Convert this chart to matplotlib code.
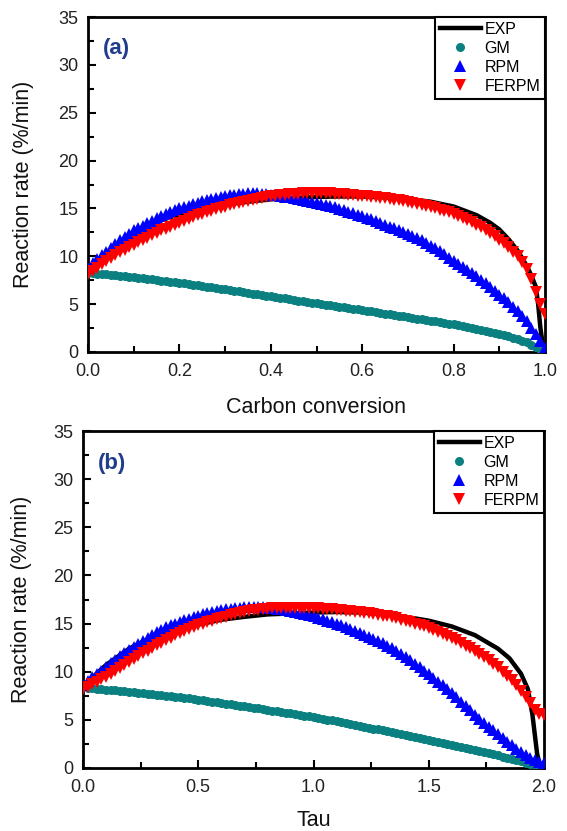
import numpy as np
import matplotlib.pyplot as plt
from matplotlib.ticker import MultipleLocator

plt.rcParams['font.family'] = ['Liberation Sans', 'DejaVu Sans']

# ---- panel (a): rate vs carbon conversion ----
conv = np.round(np.arange(0, 1.0001, 0.01), 2)
gm_a = [8.30, 8.25, 8.20, 8.15, 8.10, 8.05, 8.00, 7.95, 7.90, 7.85,
        7.80, 7.75, 7.70, 7.64, 7.58, 7.52, 7.47, 7.41, 7.36, 7.30,
        7.25, 7.18, 7.11, 7.04, 6.97, 6.90, 6.83, 6.76, 6.69, 6.62,
        6.55, 6.48, 6.40, 6.33, 6.25, 6.18, 6.10, 6.03, 5.95, 5.88,
        5.80, 5.73, 5.66, 5.59, 5.52, 5.45, 5.38, 5.31, 5.24, 5.17,
        5.10, 5.03, 4.96, 4.89, 4.82, 4.75, 4.68, 4.61, 4.54, 4.47,
        4.40, 4.32, 4.25, 4.17, 4.10, 4.02, 3.95, 3.87, 3.80, 3.72,
        3.65, 3.57, 3.50, 3.42, 3.35, 3.27, 3.20, 3.12, 3.05, 2.97,
        2.90, 2.80, 2.70, 2.60, 2.50, 2.40, 2.30, 2.20, 2.10, 2.00,
        1.90, 1.78, 1.65, 1.50, 1.35, 1.18, 1.00, 0.78, 0.55, 0.32,
        0.10]
rpm_a = [8.80, 9.25, 9.70, 10.10, 10.50, 10.90, 11.30, 11.65, 12.00, 12.35,
         12.70, 12.95, 13.20, 13.45, 13.70, 13.95, 14.20, 14.40, 14.60, 14.80,
         15.00, 15.15, 15.30, 15.45, 15.60, 15.75, 15.90, 16.00, 16.10, 16.20,
         16.30, 16.38, 16.45, 16.50, 16.55, 16.58, 16.60, 16.58, 16.55, 16.50,
         16.45, 16.38, 16.30, 16.22, 16.15, 16.08, 16.00, 15.90, 15.80, 15.70,
         15.60, 15.48, 15.35, 15.22, 15.10, 14.95, 14.80, 14.65, 14.50, 14.35,
         14.20, 14.02, 13.85, 13.68, 13.50, 13.30, 13.10, 12.92, 12.75, 12.55,
         12.35, 12.12, 11.90, 11.65, 11.40, 11.12, 10.85, 10.52, 10.20, 9.85,
         9.50, 9.20, 8.90, 8.58, 8.25, 7.90, 7.55, 7.18, 6.80, 6.40,
         6.00, 5.60, 5.20, 4.75, 4.30, 3.75, 3.20, 2.55, 1.90, 1.15,
         0.40]
ferpm_a = [8.20, 8.50, 8.80, 9.15, 9.50, 9.80, 10.10, 10.40, 10.70, 10.95,
           11.20, 11.45, 11.70, 11.95, 12.20, 12.45, 12.70, 12.90, 13.10, 13.30,
           13.50, 13.70, 13.90, 14.10, 14.30, 14.45, 14.60, 14.75, 14.90, 15.05,
           15.20, 15.32, 15.45, 15.58, 15.70, 15.80, 15.90, 16.00, 16.10, 16.18,
           16.25, 16.32, 16.40, 16.45, 16.50, 16.52, 16.55, 16.58, 16.60, 16.60,
           16.60, 16.60, 16.60, 16.58, 16.55, 16.52, 16.50, 16.45, 16.40, 16.35,
           16.30, 16.25, 16.20, 16.15, 16.10, 16.05, 16.00, 15.92, 15.85, 15.78,
           15.70, 15.60, 15.50, 15.40, 15.30, 15.15, 15.00, 14.88, 14.75, 14.58,
           14.40, 14.20, 14.00, 13.78, 13.55, 13.30, 13.05, 12.75, 12.45, 12.10,
           11.75, 11.35, 10.95, 10.50, 10.00, 9.40, 8.70, 7.60, 6.30, 5.00,
           4.00]
exp_conv = [0.0, 0.02, 0.05, 0.1, 0.15, 0.2, 0.25, 0.3, 0.35, 0.4, 0.45, 0.5,
            0.55, 0.6, 0.65, 0.7, 0.75, 0.8, 0.85, 0.88, 0.9, 0.92, 0.94, 0.96,
            0.97, 0.98, 0.985, 0.99, 0.995, 1.0]
exp_a = [8.5, 9.4, 10.8, 12.5, 13.6, 14.4, 15.0, 15.4, 15.7, 15.95, 16.1, 16.2,
         16.25, 16.25, 16.15, 16.0, 15.7, 15.2, 14.3, 13.5, 12.8, 11.8, 10.6,
         9.0, 8.0, 6.8, 5.0, 2.5, 0.8, 0.3]

# ---- panel (b): rate vs tau ----
tau = np.round(np.arange(0, 2.0001, 0.02), 2)
gm_b = [8.40, 8.35, 8.30, 8.25, 8.20, 8.15, 8.10, 8.05, 8.00, 7.95,
        7.90, 7.85, 7.80, 7.75, 7.70, 7.65, 7.60, 7.55, 7.50, 7.45,
        7.40, 7.34, 7.28, 7.22, 7.16, 7.10, 7.04, 6.97, 6.90, 6.83,
        6.76, 6.69, 6.62, 6.55, 6.48, 6.41, 6.34, 6.27, 6.20, 6.12,
        6.05, 5.97, 5.90, 5.82, 5.75, 5.67, 5.60, 5.52, 5.45, 5.37,
        5.30, 5.21, 5.12, 5.03, 4.94, 4.85, 4.76, 4.67, 4.58, 4.49,
        4.40, 4.30, 4.20, 4.10, 4.00, 3.90, 3.80, 3.70, 3.60, 3.50,
        3.40, 3.30, 3.20, 3.10, 3.00, 2.90, 2.80, 2.70, 2.60, 2.50,
        2.40, 2.30, 2.20, 2.10, 2.00, 1.90, 1.80, 1.68, 1.55, 1.42,
        1.30, 1.18, 1.05, 0.92, 0.80, 0.68, 0.55, 0.42, 0.30, 0.20,
        0.10]
rpm_b = [8.60, 9.00, 9.40, 9.75, 10.10, 10.50, 10.90, 11.25, 11.60, 11.95,
         12.30, 12.60, 12.90, 13.20, 13.50, 13.80, 14.10, 14.35, 14.60, 14.80,
         15.00, 15.18, 15.35, 15.50, 15.65, 15.80, 15.95, 16.08, 16.20, 16.30,
         16.40, 16.48, 16.55, 16.60, 16.65, 16.68, 16.70, 16.70, 16.70, 16.68,
         16.65, 16.60, 16.55, 16.48, 16.40, 16.30, 16.20, 16.10, 16.00, 15.88,
         15.75, 15.60, 15.45, 15.30, 15.15, 14.98, 14.80, 14.62, 14.45, 14.25,
         14.05, 13.85, 13.65, 13.42, 13.20, 12.95, 12.70, 12.42, 12.15, 11.85,
         11.55, 11.20, 10.85, 10.48, 10.10, 9.72, 9.35, 8.98, 8.60, 8.20,
         7.80, 7.35, 6.90, 6.45, 6.00, 5.55, 5.10, 4.70, 4.30, 3.90,
         3.50, 3.12, 2.75, 2.38, 2.00, 1.68, 1.35, 1.05, 0.80, 0.62,
         0.50]
ferpm_b = [8.20, 8.45, 8.70, 8.95, 9.20, 9.50, 9.80, 10.10, 10.40, 10.70,
           11.00, 11.30, 11.60, 11.90, 12.20, 12.48, 12.75, 13.02, 13.30, 13.55,
           13.80, 14.00, 14.20, 14.40, 14.60, 14.80, 15.00, 15.15, 15.30, 15.45,
           15.60, 15.72, 15.85, 15.98, 16.10, 16.20, 16.30, 16.38, 16.45, 16.50,
           16.55, 16.58, 16.60, 16.62, 16.65, 16.65, 16.65, 16.65, 16.65, 16.62,
           16.60, 16.58, 16.55, 16.52, 16.50, 16.45, 16.40, 16.35, 16.30, 16.25,
           16.20, 16.12, 16.05, 15.98, 15.90, 15.82, 15.75, 15.65, 15.55, 15.42,
           15.30, 15.15, 15.00, 14.85, 14.70, 14.52, 14.35, 14.15, 13.95, 13.72,
           13.50, 13.25, 13.00, 12.72, 12.45, 12.15, 11.85, 11.52, 11.20, 10.82,
           10.45, 10.02, 9.60, 9.10, 8.60, 8.00, 7.40, 6.70, 6.00, 5.60,
           5.50]
exp_tau = [0.0, 0.05, 0.1, 0.2, 0.3, 0.4, 0.5, 0.6, 0.7, 0.8, 0.9, 1.0, 1.1,
           1.2, 1.3, 1.4, 1.5, 1.6, 1.7, 1.8, 1.85, 1.9, 1.93, 1.95, 1.97, 1.98]
exp_b = [8.5, 9.6, 10.7, 12.4, 13.6, 14.3, 14.9, 15.4, 15.7, 15.95, 16.05,
         16.15, 16.2, 16.15, 16.0, 15.7, 15.3, 14.7, 13.8, 12.4, 11.4, 9.8, 8.2,
         5.5, 1.5, 0.5]

panels = [
    dict(x=conv, gm=gm_a, rpm=rpm_a, ferpm=ferpm_a, ex=exp_conv, ey=exp_a,
         tag='(a)', xlabel='Carbon conversion', xmax=1.0, xmaj=0.2, xmin=0.1,
         rect=[88 / 567, 1 - 352 / 831, 457 / 567, 335 / 831],
         ylab_x=-0.118, xlab_y=-0.134),
    dict(x=tau, gm=gm_b, rpm=rpm_b, ferpm=ferpm_b, ex=exp_tau, ey=exp_b,
         tag='(b)', xlabel='Tau', xmax=2.0, xmaj=0.5, xmin=0.25,
         rect=[83 / 567, 1 - 768 / 831, 461 / 567, 337 / 831],
         ylab_x=-0.11, xlab_y=-0.125),
]

fig = plt.figure(figsize=(5.67, 8.31), dpi=100)

for p in panels:
    ax = fig.add_axes(p['rect'])
    ax.plot(p['ex'], p['ey'], color='black', lw=3.2, label='EXP', zorder=2)
    ax.plot(p['x'], p['gm'], 'o', color='#0a8080', ms=6.5, mew=0, label='GM', zorder=3)
    ax.plot(p['x'], p['rpm'], '^', color='#0000ff', ms=8, mew=0, label='RPM', zorder=4)
    ax.plot(p['x'], p['ferpm'], 'v', color='#ff0000', ms=8, mew=0, label='FERPM', zorder=5)

    ax.set_xlim(0, p['xmax'])
    ax.set_ylim(0, 35)
    ax.xaxis.set_major_locator(MultipleLocator(p['xmaj']))
    ax.xaxis.set_minor_locator(MultipleLocator(p['xmin']))
    ax.yaxis.set_major_locator(MultipleLocator(5))
    ax.yaxis.set_minor_locator(MultipleLocator(2.5))
    ax.xaxis.set_major_formatter(plt.FormatStrFormatter('%.1f'))
    ax.tick_params(which='both', direction='in', width=1.5, colors='black',
                   labelcolor='#222222', labelsize=13)
    ax.tick_params(which='major', length=6)
    ax.tick_params(which='minor', length=4)
    ax.tick_params(axis='x', pad=8)
    ax.tick_params(axis='y', pad=7)
    for s in ax.spines.values():
        s.set_linewidth(2)

    ax.set_ylabel('Reaction rate (%/min)', fontsize=15.5, color='#111111')
    ax.yaxis.set_label_coords(p['ylab_x'], 0.5)
    ax.set_xlabel(p['xlabel'], fontsize=15.5, color='#111111')
    ax.xaxis.set_label_coords(0.5, p['xlab_y'])

    ax.text(0.033, 0.905, p['tag'], transform=ax.transAxes, ha='left', va='center',
            fontsize=16, fontweight='bold', color='#203c8c')

    leg = ax.legend(loc='upper right', bbox_to_anchor=(1.0, 1.0), borderaxespad=0,
                    fancybox=False, framealpha=1, edgecolor='black', fontsize=11.5,
                    handlelength=2.6, handletextpad=0.2, labelspacing=0.25,
                    borderpad=0.3)
    leg.get_frame().set_linewidth(1.5)

fig.savefig('out.png', dpi=100)
